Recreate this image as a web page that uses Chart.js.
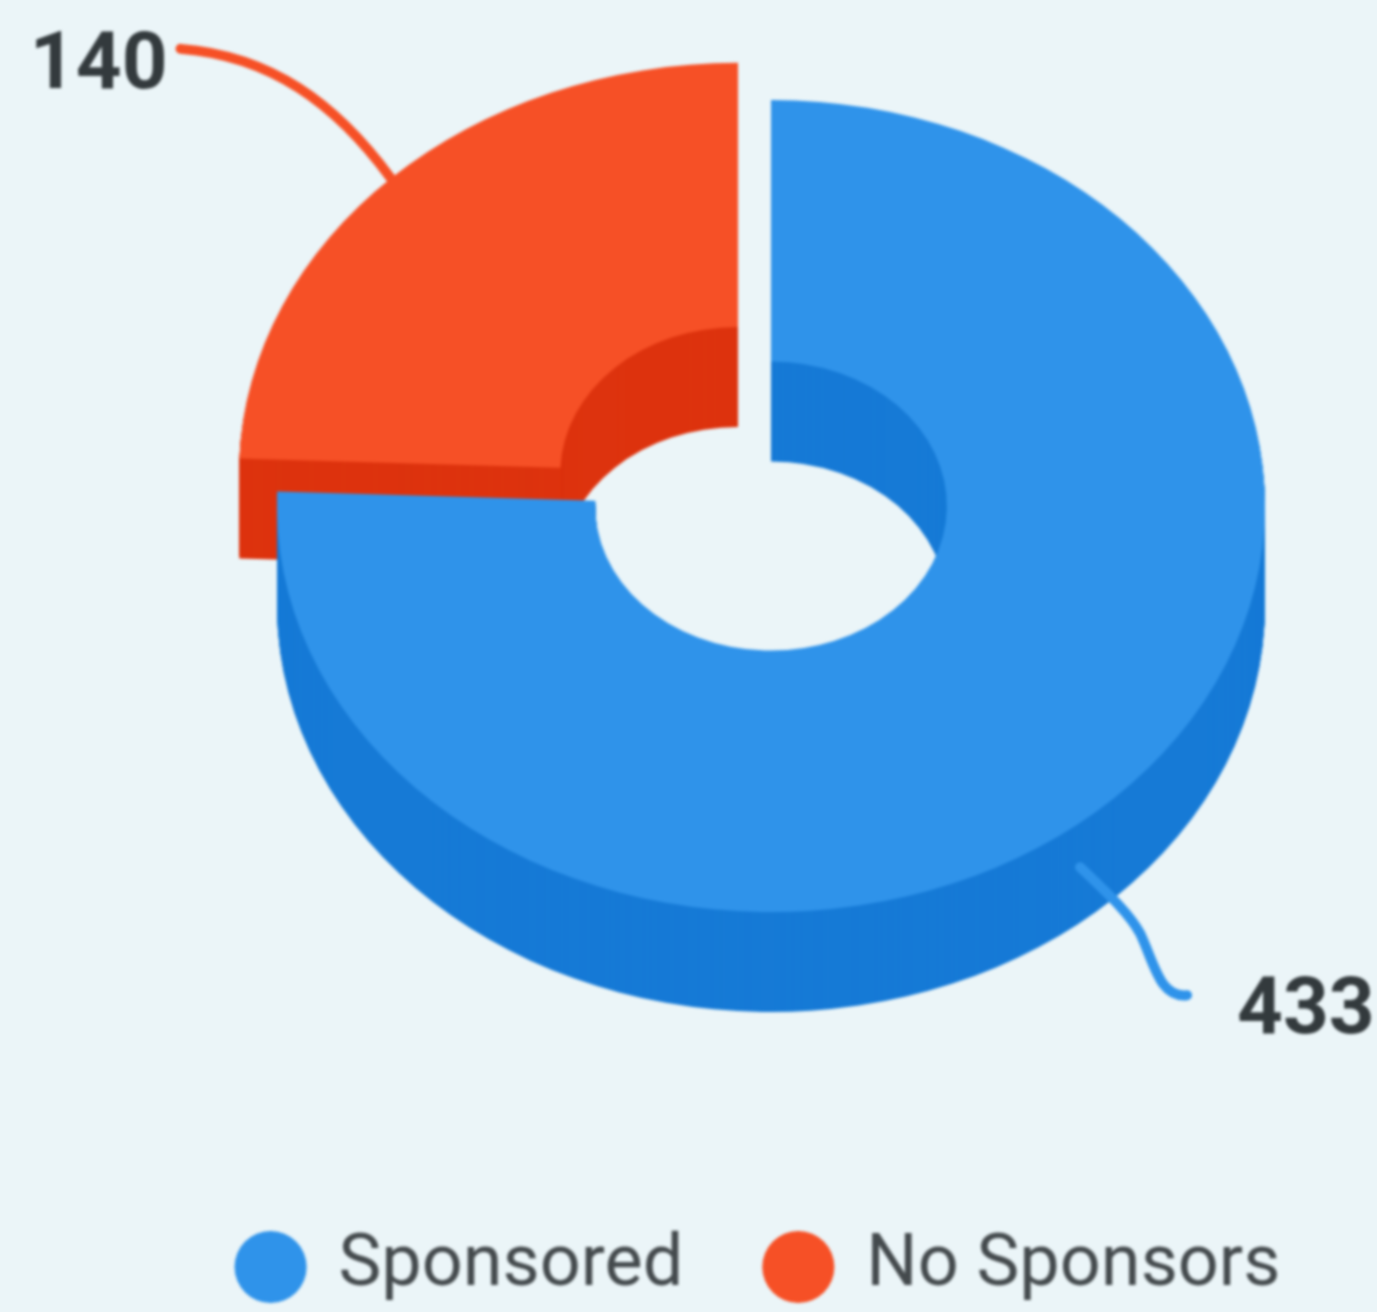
<!DOCTYPE html>
<html>
<head>
<meta charset="utf-8">
<title>Sponsored</title>
<script src="https://cdn.jsdelivr.net/npm/chart.js@4"></script>
<style>
html, body { margin: 0; padding: 0; background: #ebf5f8; overflow: hidden; }
canvas { display: block; filter: blur(1.8px); }
</style>
</head>
<body>
<canvas id="myChart" width="1377" height="1312"></canvas>
<script>
var categories = ["Sponsored", "No Sponsors"];
var values = [433, 140];
var topColors = ["#2f93ea", "#f65026"];
var sideColors = ["#167ad6", "#dd330e"];

// the flat doughnut is squashed and extruded to look 3d
var centerX = 771, centerY = 506, squash = 0.822, depth = 100;
var shifts = [[0, 0], [-33, -33]];
var grow = [1, 1.01];

function drawArc(ctx, arc, index, dy, color) {
    var piece = Object.create(arc);
    piece.options = Object.assign({}, arc.options, { backgroundColor: color, borderWidth: 0 });
    ctx.save();
    ctx.translate(centerX + shifts[index][0], centerY + shifts[index][1] + dy);
    ctx.scale(grow[index], squash * grow[index]);
    ctx.translate(-arc.x, -arc.y);
    piece.draw(ctx);
    ctx.restore();
}

var pie3d = {
    id: "pie3d",
    beforeDatasetDraw: function(chart, args) {
        var ctx = chart.ctx;
        var arcs = args.meta.data;
        // back slice first, the front one covers it
        [1, 0].forEach(function(i) {
            for (var d = depth; d > 0; d--) {
                drawArc(ctx, arcs[i], i, d, sideColors[i]);
            }
            drawArc(ctx, arcs[i], i, 0, topColors[i]);
        });
        return false;
    },
    afterDatasetsDraw: function(chart) {
        var ctx = chart.ctx;
        var arcs = chart.getDatasetMeta(0).data;

        // anchor of each leader: middle of the slice outer edge
        var mid = arcs.map(function(a, i) {
            var angle = (a.startAngle + a.endAngle) / 2;
            return {
                x: centerX + shifts[i][0] + Math.cos(angle) * a.outerRadius * grow[i],
                y: centerY + shifts[i][1] + Math.sin(angle) * a.outerRadius * squash * grow[i]
            };
        });

        ctx.save();
        ctx.lineWidth = 10;
        ctx.lineCap = "round";
        ctx.fillStyle = "#333a3d";
        ctx.font = "bold 80px Roboto";
        ctx.textBaseline = "middle";

        ctx.strokeStyle = topColors[1];
        ctx.beginPath();
        ctx.moveTo(mid[1].x - 1, mid[1].y);
        ctx.bezierCurveTo(mid[1].x - 56, mid[1].y - 75, mid[1].x - 121, mid[1].y - 122, mid[1].x - 211, mid[1].y - 129);
        ctx.stroke();
        ctx.textAlign = "right";
        ctx.fillText(values[1], mid[1].x - 224, mid[1].y - 110);

        ctx.strokeStyle = topColors[0];
        ctx.beginPath();
        ctx.moveTo(mid[0].x - 34, mid[0].y + 69);
        ctx.bezierCurveTo(mid[0].x + 1, mid[0].y + 102, mid[0].x + 16, mid[0].y + 117, mid[0].x + 26, mid[0].y + 135);
        ctx.bezierCurveTo(mid[0].x + 41, mid[0].y + 167, mid[0].x + 46, mid[0].y + 200, mid[0].x + 73, mid[0].y + 197);
        ctx.stroke();
        ctx.textAlign = "left";
        ctx.fillText(values[0], mid[0].x + 123, mid[0].y + 215);
        ctx.restore();
    }
};

var ctx = document.getElementById("myChart").getContext("2d");
var myChart = new Chart(ctx, {
    type: "doughnut",
    plugins: [pie3d],
    data: {
        labels: categories,
        datasets: [{
            data: values,
            backgroundColor: topColors,
            borderWidth: 0
        }]
    },
    options: {
        responsive: false,
        animation: false,
        radius: 494,
        cutout: "35.6%",
        layout: { padding: { left: 142, bottom: -1 } },
        plugins: {
            title: { display: false },
            tooltip: { enabled: false },
            legend: {
                position: "bottom",
                labels: {
                    usePointStyle: true,
                    pointStyle: "circle",
                    boxWidth: 64,
                    boxHeight: 51,
                    padding: 83,
                    color: "#444a4d",
                    font: { family: "Roboto", size: 72 }
                }
            }
        }
    }
});
</script>
</body>
</html>
